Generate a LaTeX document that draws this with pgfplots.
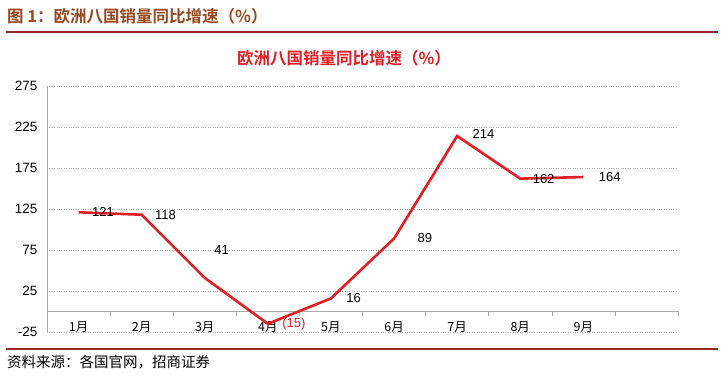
\documentclass[border=0pt]{standalone}
\usepackage{pgfplots}
\pgfplotsset{compat=1.18}
\usepackage{fontspec}
\setmainfont{Liberation Sans}
\newfontfamily\cjk{Noto Sans CJK SC}
\newfontfamily\cjkb{Noto Sans CJK SC Bold}
\definecolor{linered}{RGB}{226,30,36}
\definecolor{headbrown}{RGB}{150,72,30}
\definecolor{rulered}{RGB}{150,40,40}
\definecolor{gridgray}{RGB}{170,170,170}
\begin{document}
\begin{tikzpicture}[x=1pt,y=1pt]
\path[use as bounding box] (0,0) rectangle (723,377);
% header
\node[anchor=west,text=headbrown,font=\cjkb\fontsize{16.5}{18}\selectfont,inner sep=0pt] at (7,361) {图 1：欧洲八国销量同比增速（\%）};
\draw[rulered,line width=1.3pt] (6,345) -- (718,345);
% footer
\draw[rulered,line width=1.3pt] (6,28) -- (718,28);
\node[anchor=west,font=\cjk\fontsize{14.5}{16}\selectfont,inner sep=0pt] at (7,15) {资料来源：各国官网，招商证券};
% title
\node[text=linered,font=\cjkb\fontsize{16.5}{18}\selectfont] at (344,319) {欧洲八国销量同比增速（\%）};
\begin{axis}[
  at={(47pt,45pt)}, anchor=south west,
  scale only axis, width=631pt, height=246pt,
  xmin=-0.5, xmax=9.5, ymin=-25, ymax=275,
  ytick={-25,25,75,125,175,225,275},
  xtick=\empty,
  yticklabel style={font=\fontsize{13.5}{15}\selectfont, xshift=-6pt},
  /pgf/number format/assume math mode=true,
  axis x line=none,
  axis y line*=left,
  y axis line style={gridgray, line width=0.6pt, -},
  major tick length=0pt,
  ymajorgrids, grid style={gridgray, dotted, line width=0.6pt},
  clip=false,
]
\draw[gridgray, line width=0.8pt] (axis cs:-0.5,0) -- (axis cs:9.5,0);
\pgfplotsinvokeforeach{0.5,1.5,2.5,3.5,4.5,5.5,6.5,7.5,8.5,9.5}{
  \draw[gridgray, line width=0.6pt] (axis cs:#1,0) -- ([yshift=-5pt]axis cs:#1,0);
}
\begin{scope}[every node/.style={font=\cjk\fontsize{12.5}{14}\selectfont, anchor=center}]
\node at (axis cs:0,-19) {1月};
\node at (axis cs:1,-19) {2月};
\node at (axis cs:2,-19) {3月};
\node at (axis cs:3,-19) {4月};
\node at (axis cs:4,-19) {5月};
\node at (axis cs:5,-19) {6月};
\node at (axis cs:6,-19) {7月};
\node at (axis cs:7,-19) {8月};
\node at (axis cs:8,-19) {9月};
\end{scope}
\addplot[linered, line width=2.6pt, line join=miter] coordinates {
 (0,121) (1,118) (2,41) (3,-15) (4,16) (5,89) (6,214) (7,162) (8,164)
};
\begin{scope}[font=\fontsize{13}{15}\selectfont]
\node[anchor=west] at (axis cs:0,121) [xshift=10pt] {121};
\node[anchor=west] at (axis cs:1,118) [xshift=10pt] {118};
\node[anchor=west] at (axis cs:2,41) [xshift=6pt,yshift=28pt] {41};
\node[anchor=west,text=linered] at (axis cs:3,-15) [xshift=11pt] {(15)};
\node[anchor=west] at (axis cs:4,16) [xshift=12pt] {16};
\node[anchor=west] at (axis cs:5,89) [xshift=20pt] {89};
\node[anchor=west] at (axis cs:6,214) [xshift=12pt,yshift=2pt] {214};
\node[anchor=west] at (axis cs:7,162) [xshift=9pt] {162};
\node[anchor=west] at (axis cs:8,164) [xshift=12pt] {164};
\end{scope}
\end{axis}
\end{tikzpicture}
\end{document}
